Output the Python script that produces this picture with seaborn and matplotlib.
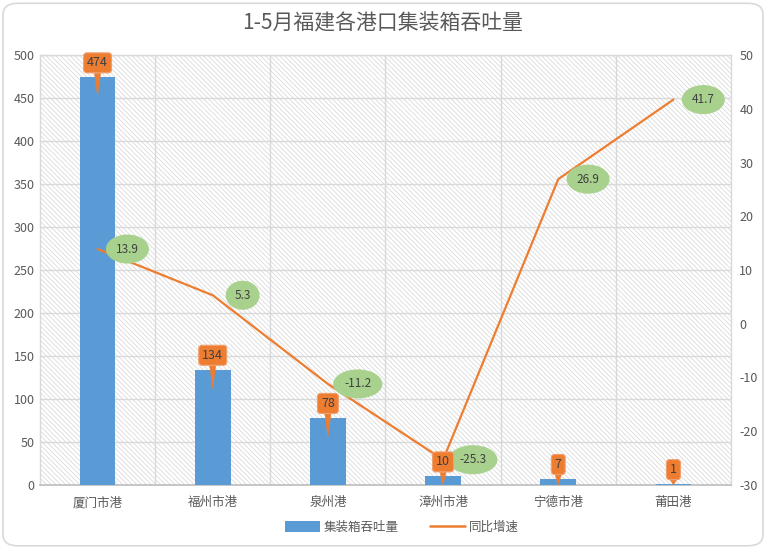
import numpy as np
import pandas as pd
import matplotlib
matplotlib.use("Agg")
import matplotlib.pyplot as plt
import seaborn as sns
from matplotlib.patches import FancyBboxPatch, Rectangle, Patch
from matplotlib.lines import Line2D
from matplotlib.transforms import ScaledTranslation

ports = ["厦门市港", "福州市港", "泉州港", "漳州市港", "宁德市港", "莆田港"]
throughput = [474, 134, 78, 10, 7, 1]
growth = [13.9, 5.3, -11.2, -25.3, 26.9, 41.7]
left_ticks = [0, 50, 100, 150, 200, 250, 300, 350, 400, 450, 500]
right_ticks = [-30, -20, -10, 0, 10, 20, 30, 40, 50]
title = "1-5月福建各港口集装箱吞吐量"
bar_name = "集装箱吞吐量"
line_name = "同比增速"

sns.set_theme(style="white")
plt.rcParams['font.family'] = ['Noto Sans CJK SC', 'DejaVu Sans']
plt.rcParams['hatch.linewidth'] = 0.5
plt.rcParams['axes.unicode_minus'] = False

BLUE = "#5B9BD5"
ORANGE = "#ED7D31"
GREEN = "#A9D18E"
TXT = "#595959"
GRID = "#D9D9D9"

df = pd.DataFrame({"port": ports, "throughput": throughput, "growth": growth})

fig = plt.figure(figsize=(7.66, 5.48), dpi=100)
fig.patch.set_facecolor("white")
border = FancyBboxPatch((0.004, 0.004), 0.992, 0.99, boxstyle="round,pad=0,rounding_size=0.02",
                        transform=fig.transFigure, facecolor="white", edgecolor="#D9D9D9",
                        linewidth=1.2, zorder=-10)
fig.patches.append(border)

AX_H_PX = 430
ax = fig.add_axes([40/766, 63/548, 691/766, AX_H_PX/548])
ax.patch.set_visible(False)
hatch_rect = Rectangle((0, 0), 1, 1, transform=ax.transAxes, facecolor="white",
                       edgecolor="#D4D4D4", hatch="\\" * 7, linewidth=0, zorder=-5)
ax.add_patch(hatch_rect)

sns.barplot(data=df, x="port", y="throughput", ax=ax, color=BLUE, width=0.31,
            saturation=1, linewidth=0, zorder=3)
ax.set_ylim(0, 500)
ax.set_xlim(-0.5, 5.5)
ax.set_yticks(left_ticks)
ax.set_xlabel("")
ax.set_ylabel("")
for y in left_ticks[1:]:
    ax.axhline(y, color=GRID, lw=1, zorder=1)
for x in np.arange(0.5, 5.5, 1):
    ax.axvline(x, color=GRID, lw=1, zorder=1)
ax.set_xticks(np.arange(-0.5, 6.0, 1), minor=True)
ax.tick_params(axis="x", which="minor", length=5, color="#BFBFBF", width=1)
ax.tick_params(axis="x", which="major", length=0, labelsize=9, labelcolor=TXT, pad=8)
ax.tick_params(axis="y", length=0, labelsize=9, labelcolor=TXT, pad=4)
for s in ["left", "right", "top"]:
    ax.spines[s].set_color(GRID)
    ax.spines[s].set_linewidth(1)
ax.spines["bottom"].set_color("#BFBFBF")

ax2 = ax.twinx()
sns.lineplot(x=np.arange(len(ports)), y=growth, ax=ax2, color=ORANGE, lw=1.6, zorder=5)
ax2.set_ylim(-30, 50)
ax2.set_yticks(right_ticks)
ax2.tick_params(axis="y", length=0, labelsize=9, labelcolor=TXT, pad=6)
for s in ax2.spines.values():
    s.set_visible(False)
for i, v in enumerate(growth):
    ax2.annotate(f"{v}", xy=(i, v), xytext=(21.5, 0), textcoords="offset points",
                 ha="center", va="center", fontsize=8.5, color="#404040", zorder=7,
                 bbox=dict(boxstyle="ellipse,pad=0.32", fc=GREEN, ec="none"))

# orange callouts for the bars (drawn on top, positioned in bar-axis data coords)
px_per_unit = AX_H_PX / 500.0
for i, v in enumerate(throughput):
    drop_px = min(19.0, v * px_per_unit)
    tip_tr = ax.transData + ScaledTranslation(0, -drop_px / 100.0, fig.dpi_scale_trans)
    off_pt = (14.5 + drop_px) * 0.72
    ax2.annotate(str(v), xy=(i, v), xycoords=tip_tr, xytext=(0, off_pt), textcoords="offset points",
                 ha="center", va="center", fontsize=9, color="#404040", zorder=8,
                 annotation_clip=False,
                 bbox=dict(boxstyle="round,pad=0.28,rounding_size=0.25", fc=ORANGE, ec="#F0A070", lw=0.8),
                 arrowprops=dict(arrowstyle="wedge,tail_width=0.5,shrink_factor=0.5",
                                 fc=ORANGE, ec=ORANGE, lw=0.3, shrinkA=0, shrinkB=0))

fig.text(0.5, 0.958, title, ha="center", va="center", fontsize=15, color=TXT)

handles = [Patch(facecolor=BLUE, edgecolor="none"), Line2D([0], [0], color=ORANGE, lw=1.8)]
fig.legend(handles, [bar_name, line_name], loc="center", bbox_to_anchor=(0.525, 0.038), ncol=2,
           frameon=False, fontsize=9, labelcolor=TXT, handlelength=2.8, handleheight=0.9,
           columnspacing=2.5, handletextpad=0.3)

fig.savefig("out.png", dpi=100)
